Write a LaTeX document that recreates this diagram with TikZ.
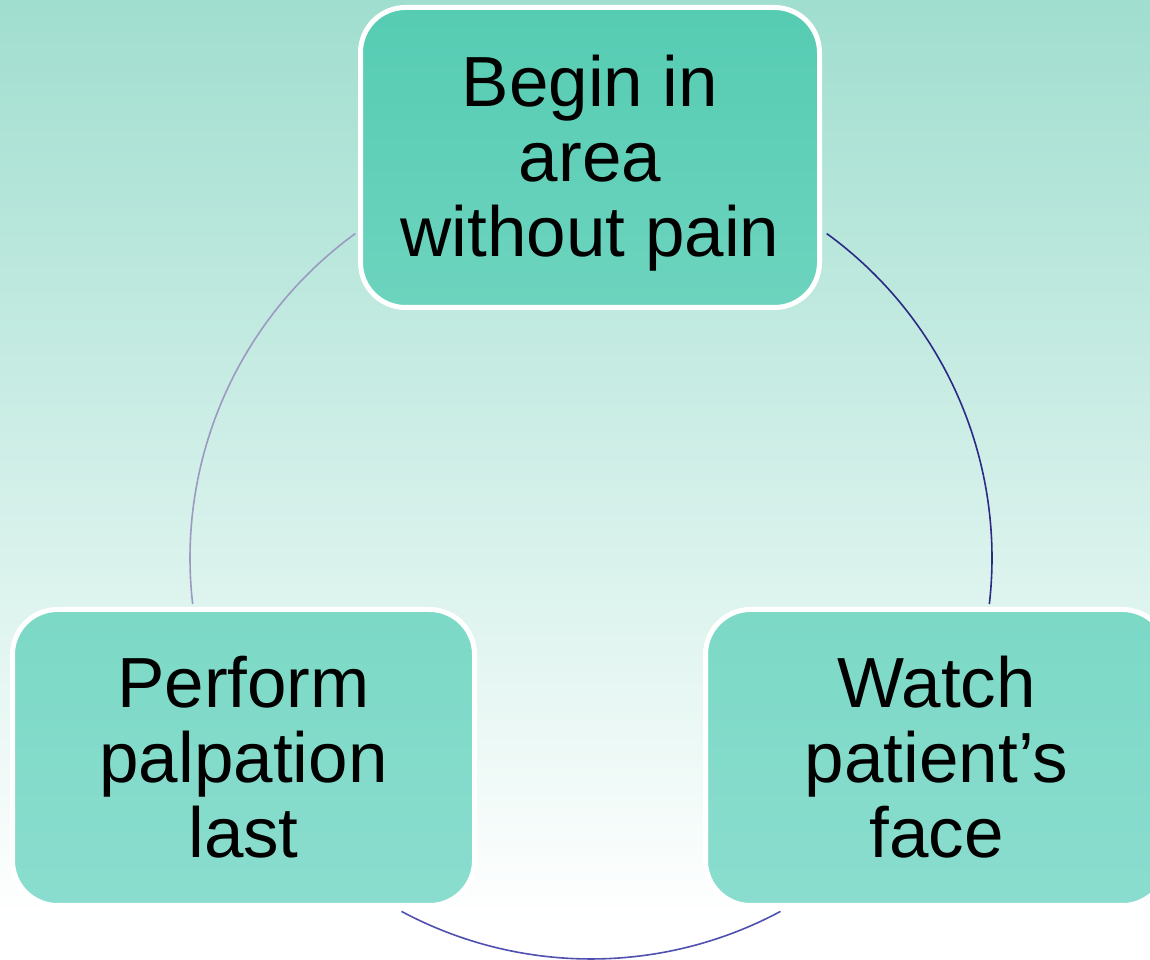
\documentclass[tikz,border=0pt]{standalone}
\usepackage{fontspec}
\setmainfont{Liberation Sans}
\usepackage{tikz}
\usetikzlibrary{positioning,calc}

\definecolor{bgtop}{HTML}{A0DECF}
\definecolor{bgmid}{HTML}{D3EEE7}
\definecolor{stepTopA}{HTML}{56CCB3}
\definecolor{stepTopB}{HTML}{6DD4BE}
\definecolor{stepLowA}{HTML}{7CD9C6}
\definecolor{stepLowB}{HTML}{8ADDCE}
\definecolor{arcNavy}{HTML}{2B2A85}
\definecolor{arcBlue}{HTML}{5150B0}
\definecolor{arcGrey}{HTML}{9C99C2}

\begin{document}
\begin{tikzpicture}[x=1pt, y=1pt,
    stepbox/.style={draw=white, line width=5pt, rectangle, rounded corners=45pt,
        inner sep=0pt, align=center, font=\fontsize{71}{75}\selectfont},
    upper/.style={stepbox, top color=stepTopA, bottom color=stepTopB,
        minimum width=459pt, minimum height=300pt},
    lower/.style={stepbox, top color=stepLowA, bottom color=stepLowB,
        minimum width=462pt, minimum height=296pt},
    link/.style={line width=1.6pt}]

    % Background
    \useasboundingbox (0,0) rectangle (1150,960);
    \clip (0,0) rectangle (1150,960);
    \shade[top color=bgtop, middle color=bgmid, bottom color=white] (0,40) rectangle (1150,960);
    \fill[white] (0,0) rectangle (1150,40);

    % Cycle centre
    \coordinate (hub) at (591,402);

    % Connections
    \draw[link, arcNavy] (hub) ++(54:401) arc[start angle=54, end angle=-6.6, radius=401];
    \draw[link, arcBlue] (hub) ++(-61.8:401) arc[start angle=-61.8, end angle=-118.2, radius=401];
    \draw[link, arcGrey] (hub) ++(186.6:401) arc[start angle=186.6, end angle=126, radius=401];

    % Steps
    \node[upper] (begin) at (590,802.5) {\rule{0pt}{62pt}Begin in\\area\\without pain};
    \node[lower] (perform) at (243.5,202.5) {Perform\\palpation\\last};
    \node[lower] (watch) at (936.5,202.5) {Watch\\patient’s\\face};

\end{tikzpicture}
\end{document}
